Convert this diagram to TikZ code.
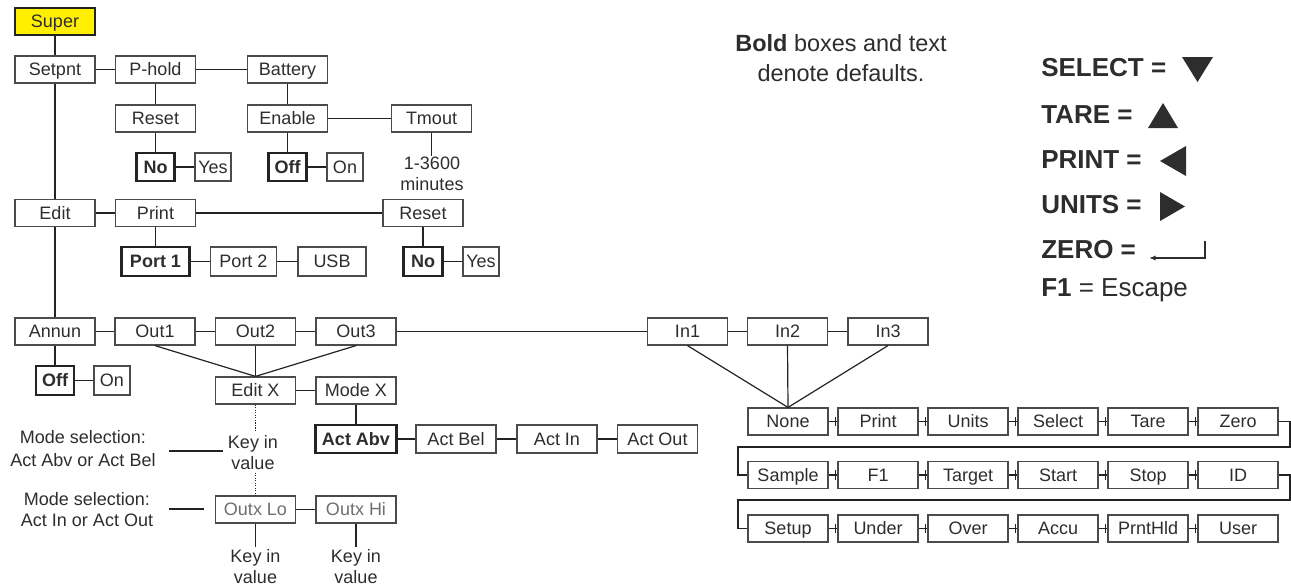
\documentclass[tikz,border=0pt]{standalone}
\usepackage{fontspec}
\setmainfont{Liberation Sans}
\usetikzlibrary{arrows.meta}
\definecolor{lineg}{RGB}{35,35,35}
\definecolor{boxg}{RGB}{75,75,75}
\definecolor{txtg}{RGB}{45,45,45}
\definecolor{lotxt}{RGB}{110,110,110}
\definecolor{superyel}{RGB}{255,240,0}
\tikzset{
  box/.style={draw=boxg, line width=0.9pt, minimum width=60pt, minimum height=20.25pt,
    inner sep=0pt, text height=12.5pt, text depth=2.9pt, text=txtg, font=\fontsize{13.5}{16}\selectfont},
  boldbox/.style={box, draw=lineg, line width=2.2pt, font=\fontsize{13.5}{16}\selectfont\bfseries},
  conn/.style={draw=lineg, line width=0.9pt},
  note/.style={align=center, inner sep=2pt, text=txtg, font=\fontsize{13.5}{15.75}\selectfont},
  legend/.style={anchor=west, inner sep=0pt, text=txtg, font=\fontsize{19.5}{23}\selectfont\bfseries}
}
\begin{document}
\begin{tikzpicture}[x=0.75pt,y=-0.75pt]
  \useasboundingbox (0,0) rectangle (1291,586);
  % --- Setpnt branch ---
  \node[box, fill=superyel, draw=lineg] (super) at (55,21.5) {Super};
  \node[box] (setpnt) at (55,69.5) {Setpnt};
  \node[box] (phold) at (155.5,69.5) {P-hold};
  \node[box] (battery) at (287.5,69.5) {Battery};
  \node[box] (reset) at (155.5,118.5) {Reset};
  \node[box] (enable) at (287.5,118.5) {Enable};
  \node[box] (tmout) at (431.5,118.5) {Tmout};
  \node[boldbox, minimum width=29pt, minimum height=21pt] (no) at (155.5,167) {No};
  \node[box, minimum width=27pt, minimum height=21pt] (yes) at (213,167) {Yes};
  \node[boldbox, minimum width=29pt, minimum height=21pt] (off) at (287.5,167) {Off};
  \node[box, minimum width=27pt, minimum height=21pt] (on) at (345,167) {On};
  \node[note] (tmtext) at (432,173.5) {1-3600\\minutes};
  \coordinate (tmend) at (431.5,156);
  % --- Edit branch ---
  \node[box] (edit) at (55,213) {Edit};
  \node[box] (print) at (155.5,213) {Print};
  \node[box] (reset2) at (423,213) {Reset};
  \node[boldbox, minimum width=51.5pt, minimum height=21.75pt] (port1) at (155.5,261.5) {Port 1};
  \node[box, minimum width=50pt, minimum height=21.75pt] (port2) at (243.5,261.5) {Port 2};
  \node[box, minimum width=51pt, minimum height=21.75pt] (usb) at (332,261.5) {USB};
  \node[boldbox, minimum width=29pt, minimum height=21.75pt] (no2) at (423,261.5) {No};
  \node[box, minimum width=27pt, minimum height=21.75pt] (yes2) at (481,261.5) {Yes};
  % --- Annun branch ---
  \node[box] (annun) at (55,331.5) {Annun};
  \node[box] (out1) at (155,331.5) {Out1};
  \node[box] (out2) at (255.5,331.5) {Out2};
  \node[box] (out3) at (356,331.5) {Out3};
  \node[box] (in1) at (687.5,331.5) {In1};
  \node[box] (in2) at (787.5,331.5) {In2};
  \node[box] (in3) at (888,331.5) {In3};
  \node[boldbox, minimum width=28.5pt, minimum height=21.75pt] (offa) at (55,380.5) {Off};
  \node[box, minimum width=27pt, minimum height=21.75pt] (ona) at (112,380.5) {On};
  % --- Outputs ---
  \node[box] (editx) at (255.5,390.5) {Edit X};
  \node[box] (modex) at (356,390.5) {Mode X};
  \node[boldbox, minimum width=61pt, minimum height=21pt] (actabv) at (356,439) {Act Abv};
  \node[box, minimum height=21pt] (actbel) at (456,439) {Act Bel};
  \node[box, minimum height=21pt] (actin) at (557,439) {Act In};
  \node[box, minimum height=21pt] (actout) at (657.5,439) {Act Out};
  \node[note] (keyin1) at (253,452.5) {Key in\\value};
  \node[note, font=\fontsize{13.5}{17}\selectfont] (modesel1) at (83,448.5) {Mode selection:\\Act Abv or Act Bel};
  \coordinate (ms1a) at (169,451);
  \coordinate (ms1b) at (223,451);
  \node[box, text=lotxt] (outxlo) at (255.5,509.5) {Outx Lo};
  \node[box, text=lotxt] (outxhi) at (356,509.5) {Outx Hi};
  \node[note, font=\fontsize{13.5}{16}\selectfont] (modesel2) at (87,509.5) {Mode selection:\\Act In or Act Out};
  \coordinate (ms2a) at (169,509);
  \coordinate (ms2b) at (204,509);
  \node[note] (keyin2) at (255.5,567) {Key in\\value};
  \node[note] (keyin3) at (356,567) {Key in\\value};
  % --- Input choices ---
  \node[box] (none) at (788,421.5) {None};
  \node[box] (printi) at (878,421.5) {Print};
  \node[box] (units) at (968,421.5) {Units};
  \node[box] (select) at (1058,421.5) {Select};
  \node[box] (tare) at (1148,421.5) {Tare};
  \node[box] (zero) at (1238,421.5) {Zero};
  \node[box] (sample) at (788,475) {Sample};
  \node[box] (fone) at (878,475) {F1};
  \node[box] (target) at (968,475) {Target};
  \node[box] (start) at (1058,475) {Start};
  \node[box] (stop) at (1148,475) {Stop};
  \node[box] (id) at (1238,475) {ID};
  \node[box] (setup) at (788,528.5) {Setup};
  \node[box] (under) at (878,528.5) {Under};
  \node[box] (over) at (968,528.5) {Over};
  \node[box] (accu) at (1058,528.5) {Accu};
  \node[box] (prnthld) at (1148,528.5) {PrntHld};
  \node[box] (user) at (1238,528.5) {User};
  \coordinate (wrapa) at (1290,447);
  \coordinate (wrapb) at (738,447);
  \coordinate (wrapc) at (1290,500);
  \coordinate (wrapd) at (738,500);
  % --- Connectors ---
  \draw[conn] (super) -- (setpnt);
  \draw[conn] (setpnt) -- (edit);
  \draw[conn] (edit) -- (annun);
  \draw[conn] (setpnt) -- (phold);
  \draw[conn] (phold) -- (battery);
  \draw[conn] (phold) -- (reset);
  \draw[conn] (reset) -- (no);
  \draw[conn] (no) -- (yes);
  \draw[conn] (battery) -- (enable);
  \draw[conn] (enable) -- (tmout);
  \draw[conn] (enable) -- (off);
  \draw[conn] (off) -- (on);
  \draw[conn] (tmout.south) -- (tmend);
  \draw[conn] (edit) -- (print);
  \draw[conn] (print) -- (reset2);
  \draw[conn] (print) -- (port1);
  \draw[conn] (port1) -- (port2);
  \draw[conn] (port2) -- (usb);
  \draw[conn] (reset2) -- (no2);
  \draw[conn] (no2) -- (yes2);
  \draw[conn] (annun) -- (out1);
  \draw[conn] (out1) -- (out2);
  \draw[conn] (out2) -- (out3);
  \draw[conn] (out3) -- (in1);
  \draw[conn] (in1) -- (in2);
  \draw[conn] (in2) -- (in3);
  \draw[conn] (annun) -- (offa);
  \draw[conn] (offa) -- (ona);
  \draw[conn] (out1.south) -- (editx.north);
  \draw[conn] (out2.south) -- (editx.north);
  \draw[conn] (out3.south) -- (editx.north);
  \draw[conn] (editx) -- (modex);
  \draw[conn] (modex) -- (actabv);
  \draw[conn] (actabv) -- (actbel);
  \draw[conn] (actbel) -- (actin);
  \draw[conn] (actin) -- (actout);
  \draw[conn, densely dotted, line width=1.3pt] (editx.south) -- (editx.south |- keyin1.north);
  \draw[conn, densely dotted, line width=1.3pt] (outxlo.north |- keyin1.south) -- (outxlo.north);
  \draw[conn] (ms1a) -- (ms1b);
  \draw[conn] (ms2a) -- (ms2b);
  \draw[conn] (outxlo) -- (outxhi);
  \draw[conn] (outxlo) -- (keyin2);
  \draw[conn] (outxhi) -- (keyin3);
  \draw[conn] (in1.south) -- (none.north);
  \draw[conn] (in2.south) -- (none.north);
  \draw[conn] (in3.south) -- (none.north);
  \foreach \a/\b in {none/printi, printi/units, units/select, select/tare, tare/zero,
    sample/fone, fone/target, target/start, start/stop, stop/id,
    setup/under, under/over, over/accu, accu/prnthld, prnthld/user} {
    \draw[conn] (\a.east) -- (\b.west);
    \draw[conn] ([xshift=-1.2pt,yshift=-3.5pt]\b.west) -- ([xshift=-1.2pt,yshift=3.5pt]\b.west);
  }
  \draw[conn] (zero.east) -| (wrapa) -- (wrapb) |- (sample.west);
  \draw[conn] (id.east) -| (wrapc) -- (wrapd) |- (setup.west);
  % --- Legend ---
  \node[align=center, text=txtg, font=\fontsize{17.6}{22.5}\selectfont] (bold) at (841,58)
    {\textbf{Bold} boxes and text\\denote defaults.};
  \node[legend] (lsel) at (1041,68) {SELECT =};
  \node[legend] (ltare) at (1041,115) {TARE =};
  \node[legend] (lprint) at (1041,160) {PRINT =};
  \node[legend] (lunits) at (1041,205) {UNITS =};
  \node[legend] (lzero) at (1041,250) {ZERO =};
  \node[legend] (lfone) at (1041,290) {F1 \textmd{= Escape}};
  \fill[txtg] (1182,57) -- (1213,57) -- (1197.5,82) -- cycle;
  \fill[txtg] (1148,128) -- (1178,128) -- (1163,103) -- cycle;
  \fill[txtg] (1186,146) -- (1186,176) -- (1160,161) -- cycle;
  \fill[txtg] (1160,192) -- (1160,221) -- (1185,206.5) -- cycle;
  \draw[draw=txtg, line width=1.2pt, -{Latex[length=5pt,width=4pt]}] (1205,241) |- (1149,258);
\end{tikzpicture}
\end{document}
